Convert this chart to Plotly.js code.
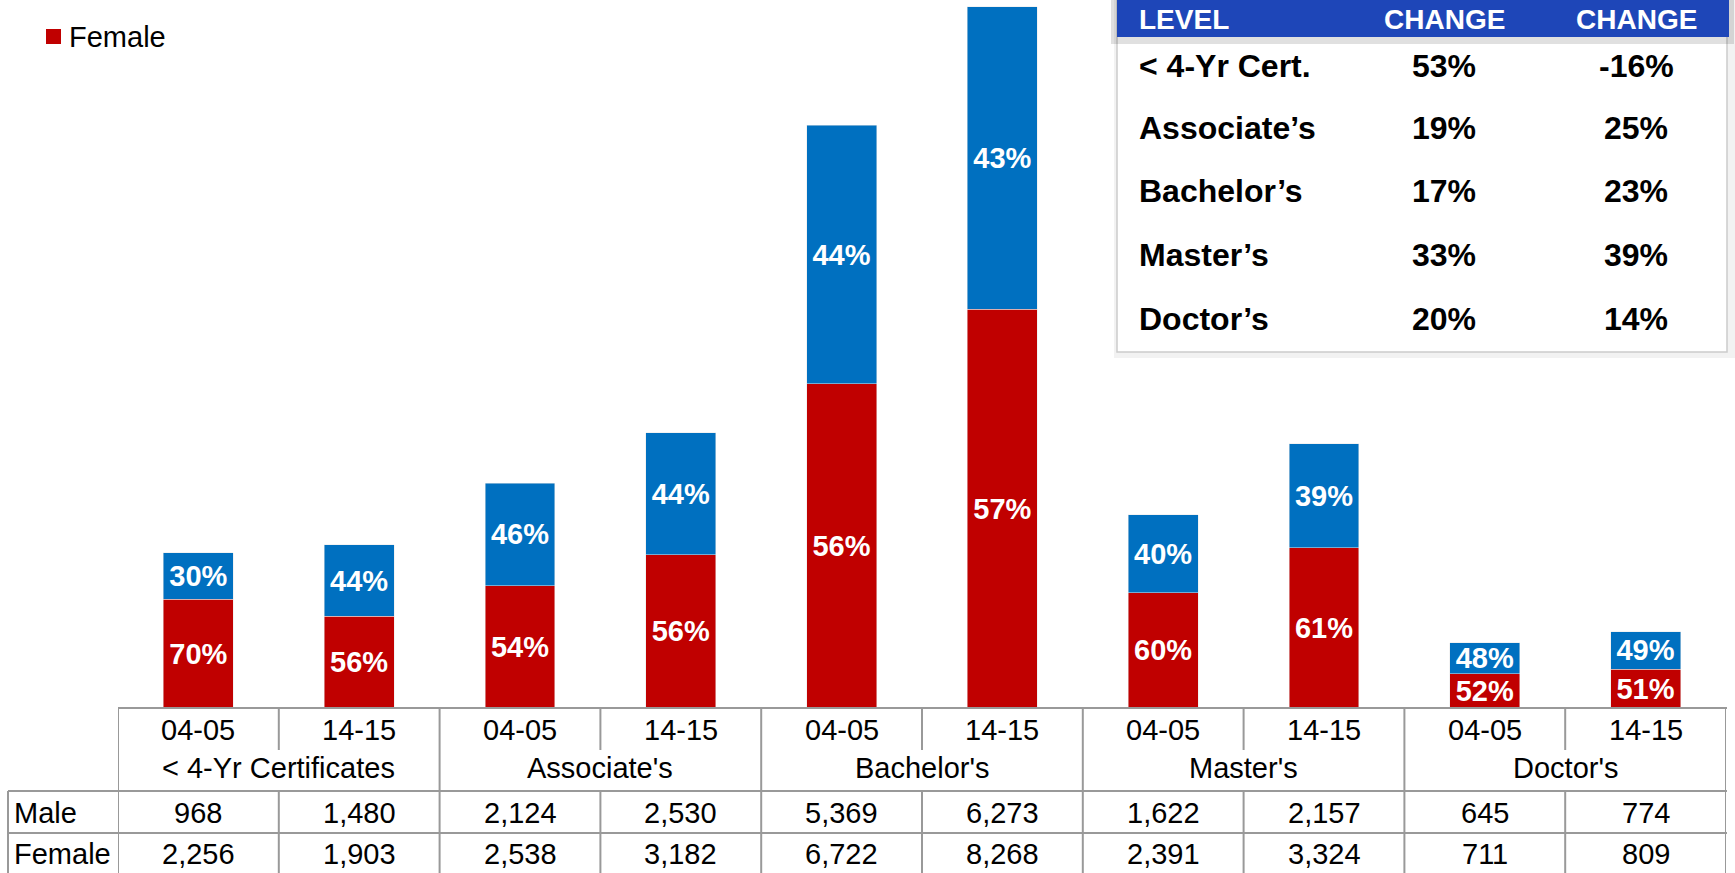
<!DOCTYPE html>
<html>
<head>
<meta charset="utf-8">
<script src="https://cdn.plot.ly/plotly-3.0.1.min.js"></script>
<style>
  html, body { margin: 0; padding: 0; background: #fff; }
  #chart { width: 1735px; height: 873px; }
</style>
</head>
<body>
<div id="chart"></div>
<script>
// degrees by level, two academic years
const levels = ["< 4-Yr Certificates", "Associate's", "Bachelor's", "Master's", "Doctor's"];
const years = ["04-05", "14-15"];
const male = [968, 1480, 2124, 2530, 5369, 6273, 1622, 2157, 645, 774];
const female = [2256, 1903, 2538, 3182, 6722, 8268, 2391, 3324, 711, 809];

// % change box
const changeLevels = ["< 4-Yr Cert.", "Associate\u2019s", "Bachelor\u2019s", "Master\u2019s", "Doctor\u2019s"];
const maleChange = ["53%", "19%", "17%", "33%", "20%"];
const femaleChange = ["-16%", "25%", "23%", "39%", "14%"];
const changeHeaders = ["LEVEL", "CHANGE", "CHANGE"];

const W = 1735, H = 873;
const px = x => x / W;
const py = y => 1 - y / H;

const RED = '#C00000', BLUE = '#0070C0', GRID = '#999999';
const FONT = 'Arial, "Liberation Sans", sans-serif';

const cats = [];
levels.forEach(l => years.forEach(y => cats.push(l + ' ' + y)));
const totals = male.map((m, i) => m + female[i]);
const pct = (v, i) => Math.round(v / totals[i] * 100) + '%';

const labelFont = {family: FONT, size: 29, color: '#ffffff', weight: 'bold'};

const femaleTrace = {
    x: cats,
    y: female,
    name: 'Female',
    type: 'bar',
    width: 0.435,
    marker: {color: RED, line: {color: '#e8e8e8', width: 0.5}},
    text: female.map(pct),
    textposition: 'inside',
    insidetextanchor: 'middle',
    textangle: 0,
    constraintext: 'none',
    insidetextfont: labelFont,
    hoverinfo: 'x+y'
};

const maleTrace = {
    x: cats,
    y: male,
    name: 'Male',
    type: 'bar',
    width: 0.435,
    marker: {color: BLUE, line: {color: '#e8e8e8', width: 0.5}},
    text: male.map(pct),
    textposition: 'inside',
    insidetextanchor: 'middle',
    textangle: 0,
    constraintext: 'none',
    insidetextfont: labelFont,
    hoverinfo: 'x+y'
};

const tableFont = {family: FONT, size: 29, color: '#000000'};
const annotations = [];
const shapes = [];

// table under the bars
cats.forEach((c, i) => {
    annotations.push({x: c, y: py(730), xref: 'x', yref: 'paper', text: years[i % 2],
        showarrow: false, font: tableFont, yanchor: 'middle'});
    annotations.push({x: c, y: py(813), xref: 'x', yref: 'paper', text: male[i].toLocaleString('en-US'),
        showarrow: false, font: tableFont, yanchor: 'middle'});
    annotations.push({x: c, y: py(854), xref: 'x', yref: 'paper', text: female[i].toLocaleString('en-US'),
        showarrow: false, font: tableFont, yanchor: 'middle'});
});
levels.forEach((l, g) => {
    annotations.push({x: g * 2 + 0.5, y: py(768), xref: 'x', yref: 'paper', text: l,
        showarrow: false, font: tableFont, yanchor: 'middle'});
});
annotations.push({x: px(12), y: py(813), xref: 'paper', yref: 'paper', text: 'Male',
    showarrow: false, font: tableFont, xanchor: 'left', yanchor: 'middle'});
annotations.push({x: px(12), y: py(854), xref: 'paper', yref: 'paper', text: 'Female',
    showarrow: false, font: tableFont, xanchor: 'left', yanchor: 'middle'});

const line = {color: GRID, width: 2};
const hline = (x0, x1, y) => shapes.push({type: 'line', xref: 'paper', yref: 'paper',
    x0: px(x0), x1: px(x1), y0: py(y), y1: py(y), line});
const vline = (x, y0, y1) => shapes.push({type: 'line', xref: 'x', yref: 'paper',
    x0: x, x1: x, y0: py(y0), y1: py(y1), line});

hline(118, 1727, 708);
hline(8, 1727, 791);
hline(8, 1727, 833);
shapes.push({type: 'line', xref: 'paper', yref: 'paper', x0: px(8), x1: px(8),
    y0: py(791), y1: py(873), line});
for (let k = 0; k <= cats.length; k++) {
    const xb = k - 0.5;
    if (k % 2 === 0) {
        vline(xb, 708, 873);
    } else {
        vline(xb, 708, 750);
        vline(xb, 791, 873);
    }
}

// legend swatch (only Female visible in this frame)
shapes.push({type: 'rect', xref: 'paper', yref: 'paper', x0: px(46), x1: px(61), y0: py(29), y1: py(44),
    fillcolor: RED, line: {width: 0}});
annotations.push({x: px(67), y: py(37), xref: 'paper', yref: 'paper', text: 'Female',
    showarrow: false, font: tableFont, xanchor: 'left', yanchor: 'middle'});

// % change box, top right
shapes.push({type: 'rect', xref: 'paper', yref: 'paper', x0: px(1114), x1: px(1735), y0: py(0), y1: py(358),
    fillcolor: 'rgba(0,0,0,0.05)', line: {width: 0}});
shapes.push({type: 'rect', xref: 'paper', yref: 'paper', x0: px(1117), x1: px(1727), y0: py(-5), y1: py(352),
    fillcolor: '#ffffff', line: {color: '#cccccc', width: 1.5}});
shapes.push({type: 'rect', xref: 'paper', yref: 'paper', x0: px(1111), x1: px(1734), y0: py(-5), y1: py(44),
    fillcolor: 'rgba(0,0,0,0.12)', line: {width: 0}});
shapes.push({type: 'rect', xref: 'paper', yref: 'paper', x0: px(1117), x1: px(1729), y0: py(-5), y1: py(37),
    fillcolor: '#1E46B8', line: {width: 0}});

const boxFont = {family: FONT, size: 32, color: '#000000', weight: 'bold'};
const headFont = {family: FONT, size: 28, color: '#ffffff', weight: 'bold'};
const colX = [1137, 1444, 1636];
changeHeaders.forEach((h, j) => {
    annotations.push({x: px(colX[j]), y: py(19.5), xref: 'paper', yref: 'paper', text: h,
        showarrow: false, font: headFont, xanchor: j === 0 ? 'left' : 'center', yanchor: 'middle'});
});
const rowY = [66, 128, 191, 255, 319];
changeLevels.forEach((l, r) => {
    annotations.push({x: px(colX[0]), y: py(rowY[r]), xref: 'paper', yref: 'paper', text: l,
        showarrow: false, font: boxFont, xanchor: 'left', yanchor: 'middle'});
    annotations.push({x: px(colX[1]), y: py(rowY[r]), xref: 'paper', yref: 'paper', text: maleChange[r],
        showarrow: false, font: boxFont, xanchor: 'center', yanchor: 'middle'});
    annotations.push({x: px(colX[2]), y: py(rowY[r]), xref: 'paper', yref: 'paper', text: femaleChange[r],
        showarrow: false, font: boxFont, xanchor: 'center', yanchor: 'middle'});
});

const layout = {
    width: W,
    height: H,
    barmode: 'stack',
    showlegend: false,
    paper_bgcolor: '#ffffff',
    plot_bgcolor: '#ffffff',
    margin: {t: 0, b: 0, l: 0, r: 0, pad: 0},
    xaxis: {
        type: 'category',
        domain: [px(118), px(1726)],
        range: [-0.5, 9.5],
        showticklabels: false,
        showgrid: false,
        zeroline: false,
        showline: false,
        ticks: ''
    },
    yaxis: {
        domain: [py(708), 1],
        range: [0, 14686],
        visible: false
    },
    shapes: shapes,
    annotations: annotations
};

Plotly.newPlot('chart', [femaleTrace, maleTrace], layout, {displayModeBar: false, staticPlot: true});
</script>
</body>
</html>
